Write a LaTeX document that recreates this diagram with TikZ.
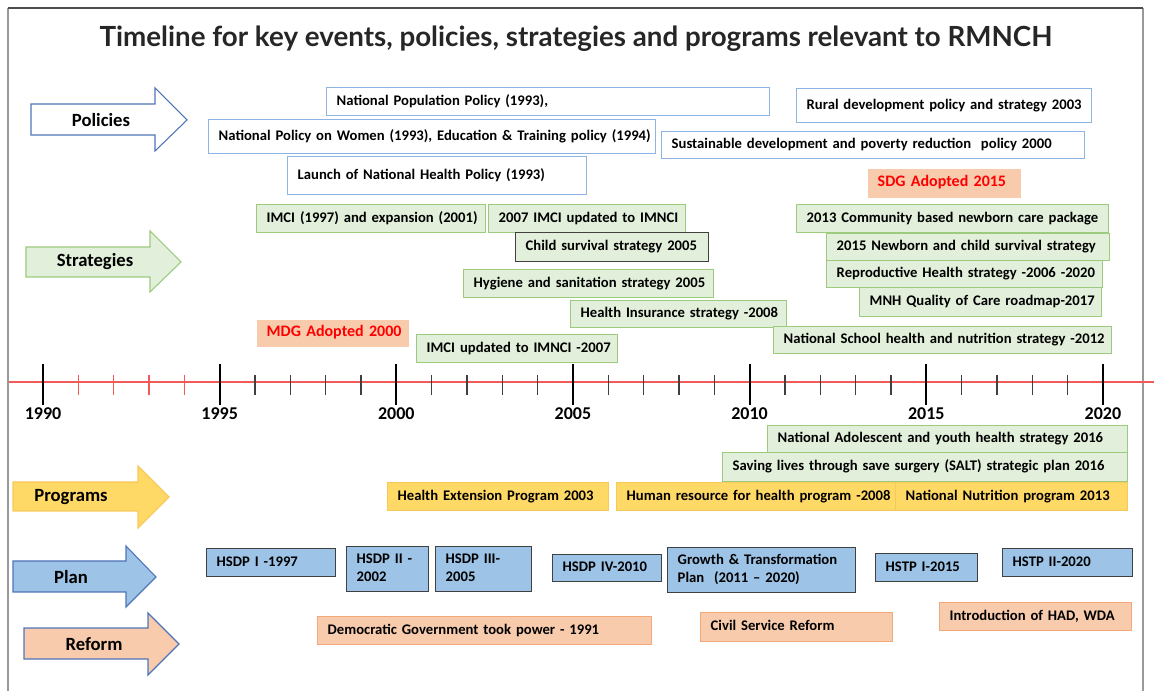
\documentclass[tikz,border=0pt]{standalone}
\usepackage{fontspec}
\setmainfont{Carlito}
\newfontfamily\titlefont{Lato}
\definecolor{polline}{HTML}{8DB4E2}
\definecolor{arrline}{HTML}{4F74B8}
\definecolor{grfill}{HTML}{E2EFDA}
\definecolor{grline}{HTML}{9CCB7E}
\definecolor{yfill}{HTML}{FFD966}
\definecolor{yline}{HTML}{F7C95A}
\definecolor{bfill}{HTML}{9DC3E6}
\definecolor{pfill}{HTML}{F8CBAD}
\definecolor{pline}{HTML}{F2A878}
\definecolor{dk}{HTML}{404040}
\definecolor{redtl}{HTML}{F25A5A}
\tikzset{
  box/.style={rectangle, line width=1.1pt, font=\fontsize{11}{13.6}\selectfont\bfseries, text=black},
  polbox/.style={box, draw=polline, fill=white},
  strbox/.style={box, draw=grline, fill=grfill},
  strdk/.style={box, draw=dk, fill=grfill},
  prgbox/.style={box, draw=yline, fill=yfill},
  planbox/.style={box, draw=dk, fill=bfill},
  refbox/.style={box, draw=pline, fill=pfill},
  goalbox/.style={box, fill=pfill, text=red, font=\fontsize{12}{14}\selectfont\bfseries},
  catlabel/.style={font=\fontsize{14}{16}\selectfont\bfseries, inner sep=0pt},
  catarrow/.style={line width=0.8pt, line join=miter},
  yearlabel/.style={font=\fontsize{13.5}{15}\selectfont\bfseries, inner sep=0pt, anchor=north},
  majortick/.style={line width=1.4pt, black},
  minortick/.style={line width=1.1pt, dk},
}
\newcommand\bx[7]{%
  \pgfmathsetmacro\bxw{(#5-#3)*0.75}%
  \pgfmathsetmacro\bxh{(#6-#4)*0.75}%
  \pgfmathsetmacro\bxt{(#5-#3)*0.75-15}%
  \node[#2, anchor=north west, minimum width=\bxw pt, minimum height=\bxh pt,
        text width=\bxt pt, inner xsep=7.5pt, inner ysep=0pt, align=left]
        (#1) at (#3,#4) {\begin{tabular}{@{}l@{}}#7\end{tabular}};}
\begin{document}
\begin{tikzpicture}[x=0.75pt,y=-0.75pt]
\useasboundingbox (0,0) rectangle (1154,691);
% frame
\draw[line width=1.6pt, color=black!40] (8,691) -- (8,8);
\draw[line width=1.6pt, color=black!40] (1143,8) -- (1143,691);
\draw[line width=1.2pt, color=black!70] (8,8) -- (1143,8);
% title
\node[font=\titlefont\bfseries\fontsize{20.8}{24}\selectfont, text=black!85, anchor=base, inner sep=0pt] (title) at (576,47)
  {Timeline for key events, policies, strategies and programs relevant to RMNCH};

% category arrows
\draw[catarrow, draw=arrline, fill=white] (31,104) -- (155,104) -- (155,88) -- (187,120) -- (155,151) -- (155,135) -- (31,135) -- cycle;
\node[catlabel] (policies) at (101,120) {Policies};
\draw[catarrow, draw=grline, fill=grfill] (26,247) -- (150,247) -- (150,231) -- (181,262) -- (150,292) -- (150,277) -- (26,277) -- cycle;
\node[catlabel] (strategies) at (95,262) {Strategies};
\draw[catarrow, draw=yline, fill=yfill] (13,482) -- (138,482) -- (138,466) -- (169,497) -- (138,528) -- (138,511) -- (13,511) -- cycle;
\node[catlabel] (programs) at (71,497) {Programs};
\draw[catarrow, draw=arrline, fill=bfill] (13,561) -- (126,561) -- (126,546) -- (156,577) -- (126,607) -- (126,592) -- (13,592) -- cycle;
\node[catlabel] (plan) at (71,577) {Plan};
\draw[catarrow, draw=arrline, fill=pfill] (24,628) -- (148,628) -- (148,613) -- (179,644) -- (148,675) -- (148,659) -- (24,659) -- cycle;
\node[catlabel] (reform) at (94,644) {Reform};

% policies
\bx{p1}{polbox}{326}{87}{769}{115}{National Population Policy (1993),}
\bx{p2}{polbox}{208}{119}{655}{153}{National Policy on Women (1993), Education \& Training policy (1994)}
\bx{p3}{polbox}{287}{156}{586}{194}{Launch of National Health Policy (1993)}
\bx{p4}{polbox}{796}{88}{1091}{122}{Rural development policy and strategy 2003}
\bx{p5}{polbox}{661}{131}{1084}{158}{Sustainable development and poverty reduction\ \ policy 2000}

% goals
\bx{sdg}{goalbox}{867}{168}{1020}{197}{SDG Adopted 2015}
\bx{mdg}{goalbox}{256}{319}{408}{346}{MDG Adopted 2000}

% strategies
\bx{s1}{strbox}{256}{204}{485}{232}{IMCI (1997) and expansion (2001)}
\bx{s2}{strbox}{488}{204}{685}{232}{2007 IMCI updated to IMNCI}
\bx{s3}{strdk}{515}{232}{708}{261}{Child survival strategy 2005}
\bx{s4}{strbox}{463}{269}{713}{297}{Hygiene and sanitation strategy 2005}
\bx{s5}{strbox}{570}{300}{786}{327}{Health Insurance strategy -2008}
\bx{s6}{strbox}{416}{334}{617}{362}{IMCI updated to IMNCI -2007}
\bx{s7}{strbox}{796}{204}{1108}{232}{2013 Community based newborn care package}
\bx{s8}{strbox}{826}{233}{1109}{260}{2015 Newborn and child survival strategy}
\bx{s9}{strbox}{826}{260}{1102}{287}{Reproductive Health strategy -2006 -2020}
\bx{s10}{strbox}{859}{287}{1101}{316}{MNH Quality of Care roadmap-2017}
\bx{s11}{strbox}{773}{326}{1111}{353}{National School health and nutrition strategy -2012}
\bx{s12}{strbox}{767}{425}{1127}{452}{National Adolescent and youth health strategy 2016}
\bx{s13}{strbox}{722}{452}{1127}{481}{Saving lives through save surgery (SALT) strategic plan 2016}

% timeline
\draw[line width=1.3pt, redtl] (9,382) coordinate (tl0) -- (1154,382) coordinate (tl1);
\foreach \y in {1991,...,1994} {
  \draw[line width=1.1pt, redtl] ({43+(\y-1990)*35.33},375) -- ++(0,20);
}
\foreach \y in {1996,...,1999,2001,2002,2003,2004,2006,2007,2008,2009,2011,2012,2013,2014,2016,2017,2018,2019} {
  \draw[minortick] ({43+(\y-1990)*35.33},375) -- ++(0,20);
}
\foreach \y in {1990,1995,2000,2005,2010,2015,2020} {
  \draw[majortick] ({43+(\y-1990)*35.33},364) -- ++(0,41);
  \node[yearlabel] (y\y) at ({43+(\y-1990)*35.33},407) {\y};
}

% programs
\bx{g1}{prgbox}{387}{482}{608}{510}{Health Extension Program 2003}
\bx{g2}{prgbox}{616}{482}{895}{510}{Human resource for health program -2008}
\bx{g3}{prgbox}{895}{482}{1127}{510}{National Nutrition program 2013}

% plan
\bx{h1}{planbox}{206}{548}{335}{576}{HSDP I -1997}
\bx{h2}{planbox}{346}{546}{428}{591}{HSDP II -\\2002}
\bx{h3}{planbox}{435}{546}{531}{591}{HSDP III-\\2005}
\bx{h4}{planbox}{552}{554}{661}{581}{HSDP IV-2010}
\bx{h5}{planbox}{667}{547}{855}{592}{Growth \& Transformation\\Plan\ \ (2011 -- 2020)}
\bx{h6}{planbox}{875}{553}{977}{581}{HSTP I-2015}
\bx{h7}{planbox}{1002}{548}{1132}{576}{HSTP II-2020}

% reform
\bx{r1}{refbox}{317}{616}{651}{644}{Democratic Government took power - 1991}
\bx{r2}{refbox}{700}{612}{892}{641}{Civil Service Reform}
\bx{r3}{refbox}{939}{602}{1131}{630}{Introduction of HAD, WDA}
\end{tikzpicture}
\end{document}
